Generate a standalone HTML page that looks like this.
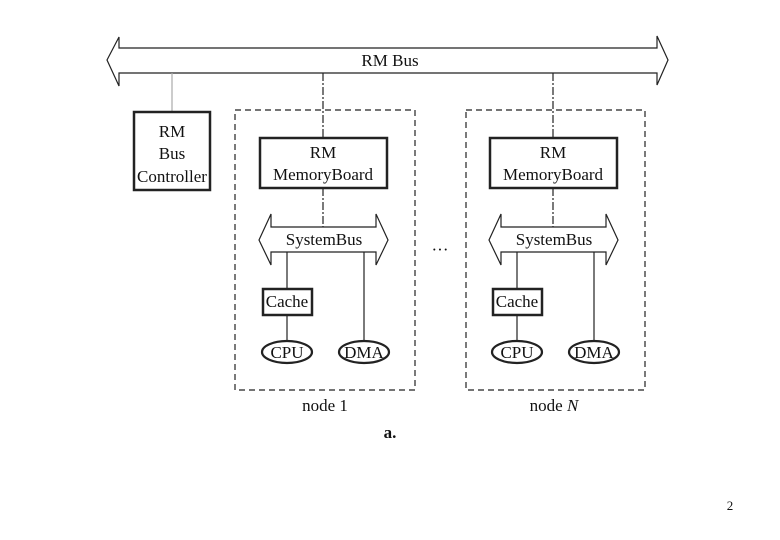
<!DOCTYPE html>
<html><head><style>body{margin:0;background:#fff}svg{display:block}text{font-family:"Liberation Serif",serif;fill:#111}</style></head>
<body>
<svg width="780" height="540" viewBox="0 0 780 540">
<g fill="none" stroke="#222" stroke-width="1.2">
<polygon points="107,60 119,37 119,48 657,48 657,36 668,60 657,85 657,73 119,73 119,86" fill="#fff"/>
<line x1="172" y1="73" x2="172" y2="111" stroke="#aaa"/>
<rect x="134" y="112" width="76" height="78" stroke-width="2.5"/>
<rect x="235" y="110" width="180" height="280" stroke-dasharray="6,4"/>
<rect x="466" y="110" width="179" height="280" stroke-dasharray="6,4"/>
<line x1="323" y1="73" x2="323" y2="137" stroke-dasharray="8,2,2,2"/>
<line x1="553" y1="73" x2="553" y2="137" stroke-dasharray="8,2,2,2"/>
<g id="n">
<rect x="260" y="138" width="127" height="50" stroke-width="2.5"/>
<line x1="323" y1="188" x2="323" y2="227" stroke-dasharray="8,2,2,2"/>
<polygon points="259,240 271,214 271,227 376,227 376,214 388,240 376,265 376,252 271,252 271,265" fill="#fff"/>
<line x1="287" y1="252" x2="287" y2="289"/>
<rect x="263" y="289" width="49" height="26" stroke-width="2.5"/>
<line x1="287" y1="315" x2="287" y2="341"/>
<line x1="364" y1="252" x2="364" y2="341"/>
<ellipse cx="287" cy="352" rx="25" ry="11" stroke-width="2.2"/>
<ellipse cx="364" cy="352" rx="25" ry="11" stroke-width="2.2"/>
</g>
<use href="#n" transform="translate(230,0)"/>
</g>
<g font-size="17" text-anchor="middle">
<text x="390" y="66">RM Bus</text>
<text x="172" y="137">RM</text><text x="172" y="159">Bus</text><text x="172" y="182">Controller</text>
<text x="323" y="158">RM</text><text x="323" y="180">MemoryBoard</text>
<text x="553" y="158">RM</text><text x="553" y="180">MemoryBoard</text>
<text x="324" y="245">SystemBus</text><text x="554" y="245">SystemBus</text>
<text x="287" y="307">Cache</text><text x="517" y="307">Cache</text>
<text x="287" y="358">CPU</text><text x="364" y="358">DMA</text>
<text x="517" y="358">CPU</text><text x="594" y="358">DMA</text>
<text x="440" y="255">···</text>
<text x="325" y="411">node 1</text>
<text x="554" y="411">node <tspan font-style="italic">N</tspan></text>
<text x="390" y="438" font-weight="bold">a.</text>
</g>
<text x="730" y="510" font-family="Liberation Sans,sans-serif" font-size="13" text-anchor="middle">2</text>
</svg>
</body></html>
